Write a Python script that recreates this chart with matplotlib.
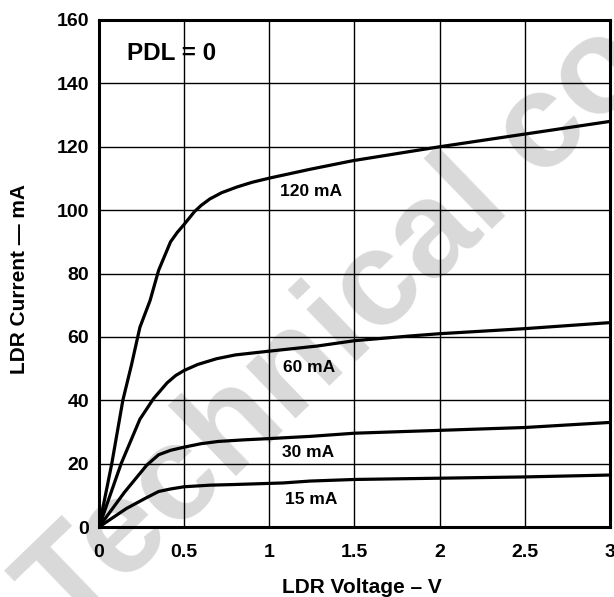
import matplotlib
matplotlib.use("Agg")
import matplotlib.pyplot as plt

# ---- data ----
v120 = [0, 0.075, 0.14, 0.19, 0.24, 0.30, 0.35, 0.42, 0.46, 0.5, 0.56, 0.6, 0.65, 0.72, 0.81, 0.9,
        1.0, 1.24, 1.49, 2.0, 2.5, 3.0]
i120 = [0, 20, 40, 51, 63, 71.5, 81, 90, 93, 95.5, 99.5, 101.5, 103.5, 105.5, 107.3, 108.8,
        110.1, 112.9, 115.6, 120, 124, 128]

v60 = [0, 0.13, 0.24, 0.32, 0.4, 0.45, 0.5, 0.58, 0.69, 0.8, 1.0, 1.28, 1.5, 1.83, 2.0, 2.5, 3.0]
i60 = [0, 20, 34, 40.5, 45.5, 47.8, 49.4, 51.3, 53.1, 54.3, 55.5, 57.1, 58.8, 60.3, 61.0, 62.6, 64.5]

v30 = [0, 0.15, 0.28, 0.35, 0.42, 0.5, 0.6, 0.7, 0.85, 1.0, 1.24, 1.5, 1.83, 2.0, 2.5, 3.0]
i30 = [0, 11, 19.5, 22.8, 24.2, 25.2, 26.3, 27, 27.5, 27.9, 28.6, 29.6, 30.2, 30.5, 31.4, 33.0]

v15 = [0, 0.16, 0.27, 0.35, 0.42, 0.5, 0.65, 0.79, 1.08, 1.24, 1.5, 2.0, 2.5, 3.0]
i15 = [0, 5.8, 9.0, 11.2, 12.0, 12.7, 13.2, 13.4, 13.9, 14.5, 15, 15.4, 15.8, 16.4]

curve_labels = ["120 mA", "60 mA", "30 mA", "15 mA"]
label_pos = [(1.063, 104.3), (1.08, 49.0), (1.075, 22.0), (1.09, 7.2)]

x_ticks = [0, 0.5, 1, 1.5, 2, 2.5, 3]
x_ticklabels = ["0", "0.5", "1", "1.5", "2", "2.5", "3"]
y_ticks = [0, 20, 40, 60, 80, 100, 120, 140, 160]

plt.rcParams['font.family'] = ['Liberation Sans', 'DejaVu Sans']

W, H = 614, 597
fig = plt.figure(figsize=(W / 100, H / 100), dpi=100)
ax = fig.add_axes([99 / W, 1 - 527 / H, 511 / W, 507 / H])
ax.set_zorder(1)
ax.patch.set_alpha(0)

# watermark
fig.text(68 / W, 1 - 638 / H, "Technical co", rotation=44, rotation_mode='anchor',
         ha='left', va='baseline', fontsize=98, fontweight='bold',
         color='#d9d9d9', zorder=0)

for v, i in [(v120, i120), (v60, i60), (v30, i30), (v15, i15)]:
    ax.plot(v, i, color='black', lw=2.3, solid_capstyle='round', solid_joinstyle='round', zorder=3)

for t, (x, y) in zip(curve_labels, label_pos):
    ax.text(x, y, t, fontsize=12.5, fontweight='bold', ha='left', va='baseline', zorder=4)

ax.text(0.164, 147.4, "PDL = 0", fontsize=17.5, fontweight='bold', ha='left', va='baseline', zorder=4)

ax.set_xlim(0, 3)
ax.set_ylim(0, 160)
ax.set_xticks(x_ticks)
ax.set_xticklabels(x_ticklabels)
ax.set_yticks(y_ticks)
ax.grid(True, color='black', lw=1.0, zorder=1)
ax.set_axisbelow(True)
ax.tick_params(length=0, labelsize=14)
ax.tick_params(axis='x', pad=12)
ax.tick_params(axis='y', pad=7)
for lab in ax.get_xticklabels() + ax.get_yticklabels():
    lab.set_fontweight('bold')
for s in ax.spines.values():
    s.set_linewidth(2.2)
    s.set_zorder(5)

fig.text(362 / W, 4 / H, "LDR Voltage \u2013 V", ha='center', va='baseline', fontsize=15, fontweight='bold')
fig.text(20 / W, 1 - 279 / H, "LDR Current \u2014 mA", ha='center', va='center', rotation=90,
         fontsize=15, fontweight='bold')

fig.savefig("out.png", dpi=100)
